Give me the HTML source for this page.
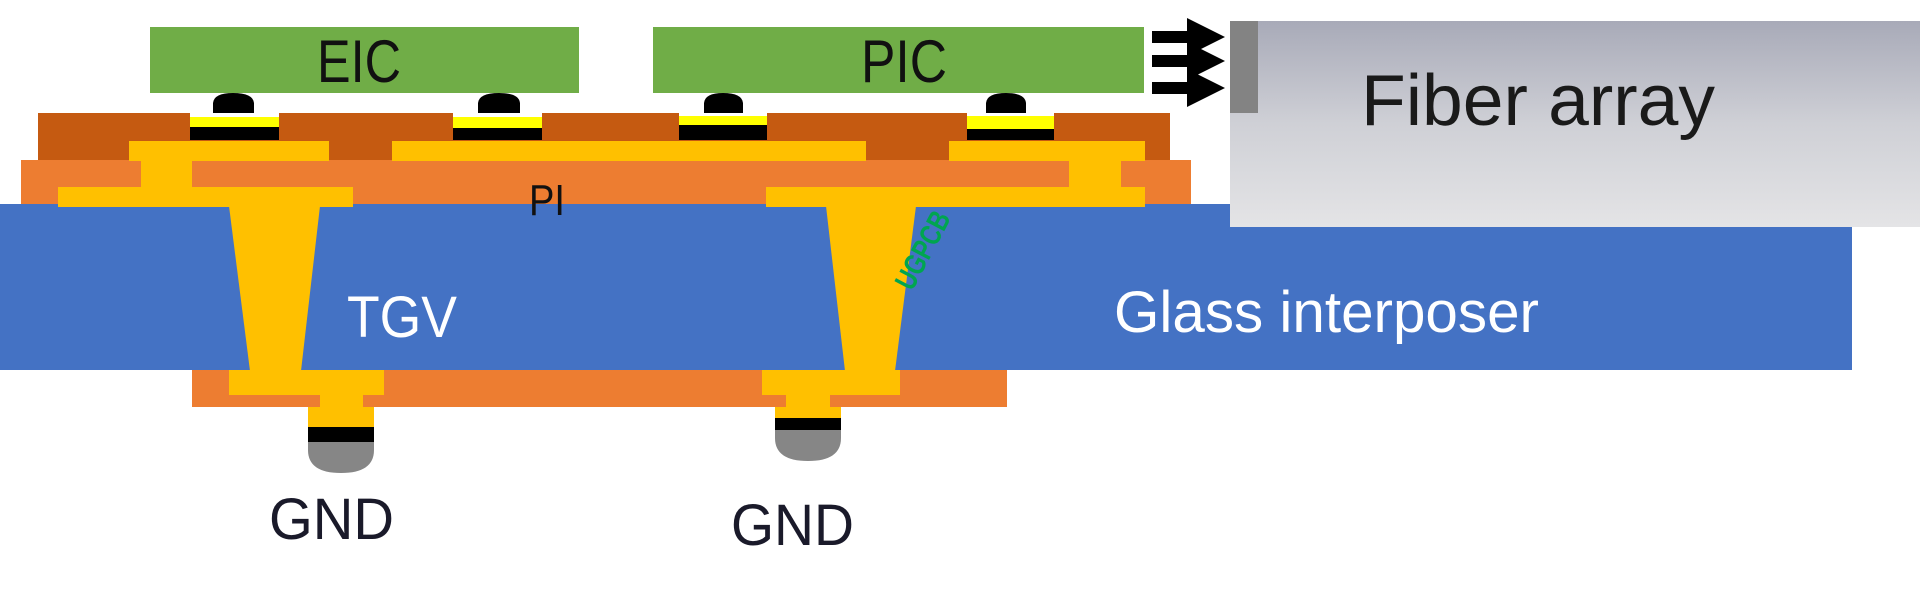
<!DOCTYPE html>
<html><head><meta charset="utf-8"><style>
html,body{margin:0;padding:0;background:#fff;}
svg{display:block;}
text{font-family:"Liberation Sans",sans-serif;}
</style></head><body>
<svg width="1920" height="591" viewBox="0 0 1920 591" xmlns="http://www.w3.org/2000/svg">
<defs>
<linearGradient id="fg" gradientUnits="userSpaceOnUse" x1="0" y1="21" x2="0" y2="227">
<stop offset="0" stop-color="#a8aab8"/><stop offset="0.5" stop-color="#cfd0d6"/><stop offset="1" stop-color="#e4e4e6"/>
</linearGradient>
</defs>
<!-- fiber array -->
<rect x="1230" y="21" width="690" height="206" fill="url(#fg)"/>
<rect x="1230" y="21" width="28" height="92" fill="#838383"/>
<text x="1361" y="125" font-size="72" fill="#1a1a1a" textLength="354" lengthAdjust="spacingAndGlyphs">Fiber array</text>
<!-- arrows -->
<g fill="#000">
<rect x="1152" y="31" width="40" height="12"/><polygon points="1187,18 1225,37 1187,56"/>
<rect x="1152" y="55" width="40" height="12"/><polygon points="1187,42 1225,61 1187,80"/>
<rect x="1152" y="82" width="40" height="12"/><polygon points="1187,69 1225,88 1187,107"/>
</g>
<!-- chips -->
<rect x="150" y="27" width="429" height="66" fill="#70ad47"/>
<rect x="653" y="27" width="491" height="66" fill="#70ad47"/>
<text x="317" y="82" font-size="60" fill="#111" textLength="84" lengthAdjust="spacingAndGlyphs">EIC</text>
<text x="861" y="82" font-size="60" fill="#111" textLength="86" lengthAdjust="spacingAndGlyphs">PIC</text>
<!-- glass -->
<rect x="0" y="204" width="1852" height="166" fill="#4472c4"/>
<rect x="1230" y="200" width="690" height="27" fill="url(#fg)"/>
<!-- top dark layer -->
<rect x="38" y="113" width="1132" height="48" fill="#c55a11"/>
<!-- PI -->
<rect x="21" y="160" width="1170" height="44" fill="#ed7d31"/>
<!-- bottom PI -->
<rect x="192" y="370" width="815" height="37" fill="#ed7d31"/>
<!-- bump pads top -->
<g>
<rect x="190" y="113" width="89" height="27" fill="#fff"/>
<rect x="190" y="117" width="89" height="10" fill="#ffff00"/>
<rect x="190" y="127" width="89" height="13" fill="#000"/>
<rect x="453" y="113" width="89" height="27" fill="#fff"/>
<rect x="453" y="117" width="89" height="11" fill="#ffff00"/>
<rect x="453" y="128" width="89" height="12" fill="#000"/>
<rect x="679" y="113" width="88" height="27" fill="#fff"/>
<rect x="679" y="116" width="88" height="9" fill="#ffff00"/>
<rect x="679" y="125" width="88" height="15" fill="#000"/>
<rect x="967" y="113" width="87" height="27" fill="#fff"/>
<rect x="967" y="116" width="87" height="13" fill="#ffff00"/>
<rect x="967" y="129" width="87" height="11" fill="#000"/>
</g>
<!-- bumps -->
<g fill="#000">
<path d="M213,113 L213,103 Q214,93 233,93 Q253,93 254,103 L254,113 Z"/>
<path d="M478,113 L478,103 Q479,93 499,93 Q519,93 520,103 L520,113 Z"/>
<path d="M704,113 L704,103 Q705,93 723,93 Q742,93 743,103 L743,113 Z"/>
<path d="M986,113 L986,103 Q987,93 1006,93 Q1025,93 1026,103 L1026,113 Z"/>
</g>
<!-- copper -->
<g fill="#ffc000">
<rect x="129" y="141" width="200" height="20"/>
<rect x="392" y="141" width="474" height="20"/>
<rect x="949" y="141" width="196" height="20"/>
<rect x="141" y="159" width="51" height="30"/>
<rect x="1069" y="159" width="52" height="30"/>
<rect x="58" y="187" width="295" height="20"/>
<rect x="766" y="187" width="379" height="20"/>
<polygon points="229,206 320,206 301,371 250,371"/>
<polygon points="826,206 916,206 895,371 845,371"/>
<rect x="229" y="370" width="155" height="25"/>
<rect x="762" y="370" width="138" height="25"/>
<rect x="320" y="394" width="43" height="14"/>
<rect x="786" y="394" width="44" height="14"/>
<rect x="308" y="407" width="66" height="20"/>
<rect x="775" y="407" width="66" height="11"/>
</g>
<rect x="308" y="427" width="66" height="15" fill="#000"/>
<rect x="775" y="418" width="66" height="12" fill="#000"/>
<path d="M308,442 L374,442 L374,450 Q374,473 341,473 Q308,473 308,450 Z" fill="#868686"/>
<path d="M775,430 L841,430 L841,438 Q841,461 808,461 Q775,461 775,438 Z" fill="#868686"/>
<!-- labels -->
<text x="529" y="215" font-size="44" fill="#111" textLength="36" lengthAdjust="spacingAndGlyphs">PI</text>
<text x="347" y="337" font-size="58" fill="#fff" textLength="110" lengthAdjust="spacingAndGlyphs">TGV</text>
<text x="1114" y="332" font-size="58" fill="#fff" textLength="425" lengthAdjust="spacingAndGlyphs">Glass interposer</text>
<text x="269" y="539" font-size="58" fill="#1a1a2a" textLength="125" lengthAdjust="spacingAndGlyphs">GND</text>
<text x="731" y="545" font-size="58" fill="#1a1a2a" textLength="123" lengthAdjust="spacingAndGlyphs">GND</text>
<text x="0" y="0" font-size="30" font-weight="bold" fill="#00a550" transform="translate(912,292) rotate(-62)" textLength="84" lengthAdjust="spacingAndGlyphs">UGPCB</text>
</svg>
</body></html>
